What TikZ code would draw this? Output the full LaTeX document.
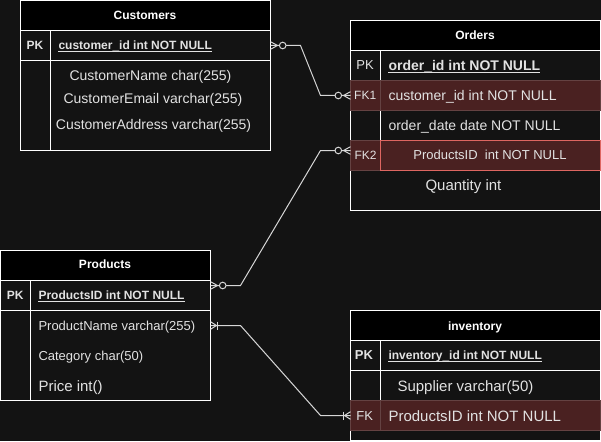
\documentclass[tikz,border=0pt]{standalone}
\usepackage{fontspec}
\setmainfont{Liberation Sans}
\usetikzlibrary{calc}
\definecolor{bg}{RGB}{19,19,19}
\definecolor{txtc}{RGB}{226,226,226}
\definecolor{fkfill}{RGB}{74,33,33}
\definecolor{fkline}{RGB}{100,66,66}
\definecolor{fkred}{RGB}{222,102,97}
\definecolor{connc}{RGB}{215,215,215}
\begin{document}
\begin{tikzpicture}[x=1pt,y=-1pt,
  tl/.style={inner sep=0pt, text=txtc, anchor=base west},
  tc/.style={inner sep=0pt, text=txtc, anchor=base},
  hd/.style={tc, text=white, font=\fontsize{12}{14}\selectfont\bfseries},
  s12/.style={font=\fontsize{12}{14}\selectfont},
  s12b/.style={font=\fontsize{12}{14}\selectfont\bfseries},
  s13/.style={font=\fontsize{13}{15}\selectfont},
  s13b/.style={font=\fontsize{13}{15}\selectfont\bfseries},
  s14/.style={font=\fontsize{14}{16}\selectfont},
  s14b/.style={font=\fontsize{14}{16}\selectfont\bfseries},
  s15/.style={font=\fontsize{15}{17}\selectfont},
  rowbox/.style={inner sep=0pt, outer sep=0pt, minimum height=30pt},
  tline/.style={draw=white, line width=1pt},
  fkrow/.style={draw=fkline, fill=fkfill, line width=1pt},
  conn/.style={draw=connc, line width=1pt},
  uline/.style={draw=txtc, line width=1pt},
  zmany/.pic={\draw[conn] (0,-3.8) -- (7,0) -- (0,3.8);
              \draw[conn, fill=bg] (12.2,0) circle (3.3pt);},
  onemany/.pic={\draw[conn] (0,-3.8) -- (6,0) -- (0,3.8);
                \draw[conn] (7,-4) -- (7,4);}
]
\fill[bg] (0,0) rectangle (601,441);
\useasboundingbox (0,0) rectangle (601,441);

% ---------------- Customers ----------------
\fill[black] (20.5,0.5) rectangle (270.5,30.5);
\draw[tline] (20.5,0.5) rectangle (270.5,150.5);
\draw[tline] (20.5,30.5) -- (270.5,30.5);
\draw[tline] (20.5,60.5) -- (270.5,60.5);
\draw[tline] (50.5,30.5) -- (50.5,150.5);
\node[rowbox, minimum width=250pt] (custPK) at (145.5,45.5) {};
\node[hd] (custT) at (145,19.6) {Customers};
\node[tc, s12b] (custPKl) at (35,49.3) {PK};
\node[tl, s12b] (custId) at (58.3,49.3) {customer\_id int NOT NULL};
\draw[uline] ([yshift=-2pt]custId.base west) -- ([yshift=-2pt]custId.base east);
\node[tl, s14] (custName) at (69.3,80.3) {CustomerName char(255)};
\node[tl, s14] (custMail) at (63.3,103.3) {CustomerEmail varchar(255)};
\node[tl, s14] (custAddr) at (55.7,129.2) {CustomerAddress varchar(255)};

% ---------------- Orders ----------------
\fill[black] (350.5,20.5) rectangle (600.5,50.5);
\draw[tline] (350.5,20.5) rectangle (600.5,210.5);
\draw[tline] (350.5,50.5) -- (600.5,50.5);
\draw[tline] (350.5,80.5) -- (600.5,80.5);
\draw[tline] (380.5,50.5) -- (380.5,170.5);
\node[rowbox, minimum width=250pt] (ordPK) at (475.5,65.5) {};
\node[rowbox, minimum width=250pt, fkrow] (ordFK1) at (475.5,95.5) {};
\draw[draw=fkline, line width=1pt] (380.5,80.5) -- (380.5,110.5);
\node[rowbox, minimum width=30pt, fill=fkfill, draw=fkline, line width=1pt] (ordFK2l) at (365.5,155.5) {};
\node[rowbox, minimum width=220pt, fill=fkfill, draw=fkred, line width=1pt] (ordFK2) at (490.5,155.5) {};
\coordinate (ordFK2w) at ($(ordFK2l.west)+(0,-5)$);
\node[hd] (ordT) at (475,39.8) {Orders};
\node[tc, s13] (ordPKl) at (365,69.6) {PK};
\node[tl, s14b] (ordId) at (388.3,70.3) {order\_id int NOT NULL};
\draw[uline] ([yshift=-2pt]ordId.base west) -- ([yshift=-2pt]ordId.base east);
\node[tc, s12] (ordFK1l) at (365.2,99.8) {FK1};
\node[tl, s14] (ordCust) at (388.3,100.5) {customer\_id int NOT NULL};
\node[tl, s14] (ordDate) at (388.3,130.6) {order\_date date NOT NULL};
\node[tc, s12] (ordFK2t) at (365.5,159.8) {FK2};
\node[tc, s13] (ordProd) at (490,159.6) {ProductsID\ \ int NOT NULL};
\node[tl, s15] (ordQty) at (425.3,190.5) {Quantity int};

% ---------------- Products ----------------
\fill[black] (0.5,250.5) rectangle (210.5,280.5);
\draw[tline] (0.5,250.5) rectangle (210.5,400.5);
\draw[tline] (0.5,280.5) -- (210.5,280.5);
\draw[tline] (0.5,310.5) -- (210.5,310.5);
\draw[tline] (30.5,280.5) -- (30.5,400.5);
\node[rowbox, minimum width=210pt] (prodPK) at (105.5,295.5) {};
\node[rowbox, minimum width=210pt] (prodName) at (105.5,325.5) {};
\coordinate (prodPKe) at ($(prodPK.east)+(0,-10)$);
\node[hd] (prodT) at (105,268.8) {Products};
\node[tc, s12b] (prodPKl) at (15.3,299) {PK};
\node[tl, s12b] (prodId) at (38.3,299) {ProductsID int NOT NULL};
\draw[uline] ([yshift=-2pt]prodId.base west) -- ([yshift=-2pt]prodId.base east);
\node[tl, s13] (prodNm) at (38.3,330.4) {ProductName varchar(255)};
\node[tl, s13] (prodCat) at (38.3,360.3) {Category char(50)};
\node[tl, s15] (prodPrice) at (38.3,391) {Price int()};

% ---------------- inventory ----------------
\fill[black] (350.5,310.5) rectangle (600.5,340.5);
\draw[tline] (350.5,310.5) rectangle (600.5,440.5);
\draw[tline] (350.5,340.5) -- (600.5,340.5);
\draw[tline] (350.5,370.5) -- (600.5,370.5);
\draw[tline] (380.5,340.5) -- (380.5,400.5);
\node[rowbox, minimum width=250pt, fkrow] (invFK) at (475.5,415.5) {};
\draw[draw=fkline, line width=1pt] (380.5,400.5) -- (380.5,430.5);
\node[hd] (invT) at (475,330.3) {inventory};
\node[tc, s13b] (invPKl) at (364,359.6) {PK};
\node[tl, s12b] (invId) at (388.3,359.3) {inventory\_id int NOT NULL};
\draw[uline] ([yshift=-2pt]invId.base west) -- ([yshift=-2pt]invId.base east);
\node[tl, s15] (invSup) at (397.3,391.2) {Supplier varchar(50)};
\node[tc, s13] (invFKl) at (364.7,420.1) {FK};
\node[tl, s15] (invProd) at (388.3,421.4) {ProductsID int NOT NULL};

% ---------------- connectors ----------------
\draw[conn] (custPK.east) -- ++(30,0) -- ($(ordFK1.west)+(-30,0)$) -- (ordFK1.west);
\draw[conn] (prodPKe) -- ++(30,0) -- ($(ordFK2w)+(-30,0)$) -- (ordFK2w);
\draw[conn] (prodName.east) -- ++(30,0) -- ($(invFK.west)+(-30,0)$) -- (invFK.west);
\pic at (custPK.east) {zmany};
\pic[xscale=-1] at (ordFK1.west) {zmany};
\pic at (prodPKe) {zmany};
\pic[xscale=-1] at (ordFK2w) {zmany};
\pic at (prodName.east) {onemany};
\pic[xscale=-1] at (invFK.west) {onemany};
\end{tikzpicture}
\end{document}
